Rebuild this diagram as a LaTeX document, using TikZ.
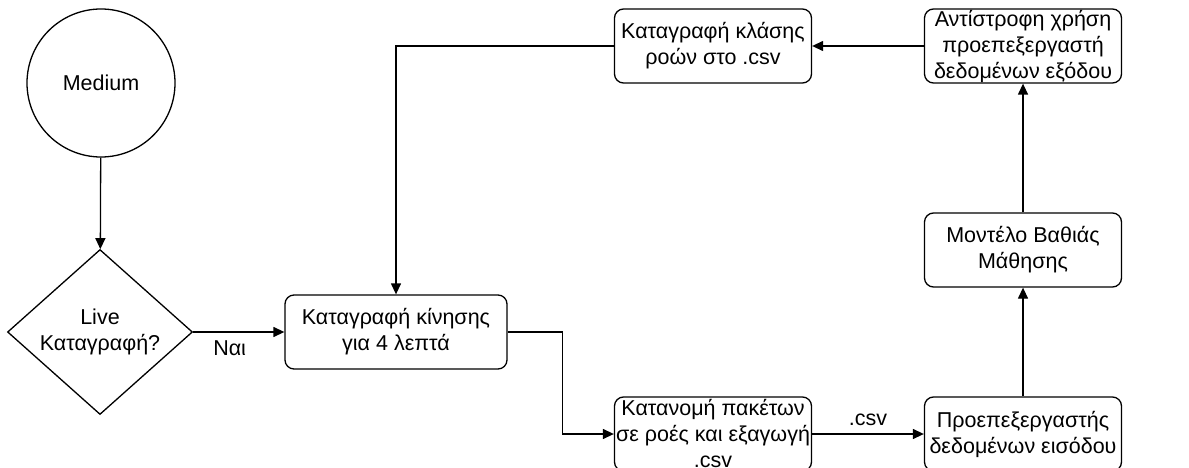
\documentclass[tikz,border=0pt]{standalone}
\usepackage{fontspec}
\setmainfont{Liberation Sans}
\usetikzlibrary{shapes.geometric,arrows.meta}
\begin{document}
\begin{tikzpicture}[x=1pt,y=-1pt,
  every node/.style={font=\fontsize{21.5}{26}\selectfont, align=center, inner sep=0pt},
  box/.style={draw, line width=1.3pt, rounded corners=9pt, minimum width=197pt, minimum height=74pt},
  conn/.style={line width=1.3pt, -{Triangle[length=11pt,width=10pt]}}]
\useasboundingbox (0,0) rectangle (1189,468);
\fill[white] (0,0) rectangle (1189,468);
\node[draw, circle, line width=1.3pt, minimum size=148pt] (med) at (101,83) {Medium};
\node[draw, diamond, line width=1.3pt, minimum width=185pt, minimum height=165pt] (dec) at (100,332) {};
\node (dectext) at (100,332) {Live\\Καταγραφή?};
\node[box, minimum width=222pt] (rec) at (396,332) {Καταγραφή κίνησης\\για 4 λεπτά};
\node[box] (split) at (713,434) {Κατανομή πακέτων\\σε ροές και εξαγωγή\\.csv};
\node[box] (pre) at (1023,434) {Προεπεξεργαστής\\δεδομένων εισόδου};
\node[box] (model) at (1023,250) {Μοντέλο Βαθιάς\\Μάθησης};
\node[box] (inv) at (1023,46) {Αντίστροφη χρήση\\προεπεξεργαστή\\δεδομένων εξόδου};
\node[box] (log) at (713,46) {Καταγραφή κλάσης\\ροών στο .csv};
\draw[conn] (med) -- (dec);
\draw[conn] (dec) -- node[pos=0.4, below=8pt] {Ναι} (rec);
\draw[conn] (rec.east) -- ++(55,0) |- (split.west);
\draw[conn] (split) -- node[above=8pt] {.csv} (pre);
\draw[conn] (pre) -- (model);
\draw[conn] (model) -- (inv);
\draw[conn] (inv) -- (log);
\draw[conn] (log.west) -| (rec.north);
\end{tikzpicture}
\end{document}
